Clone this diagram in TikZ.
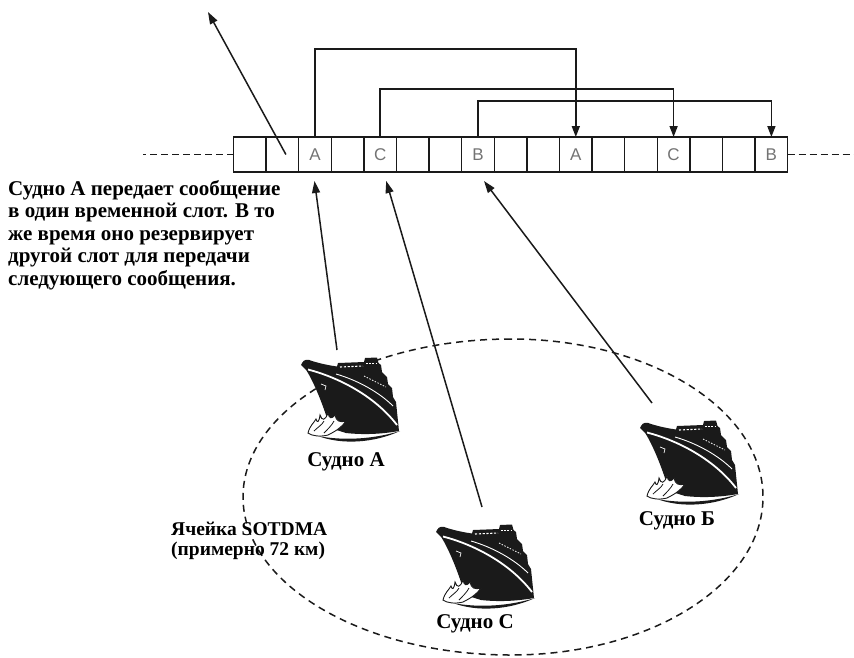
\documentclass[tikz,border=0pt]{standalone}
\usepackage{fontspec}
\setmainfont{Liberation Serif}
\newfontfamily\slotfont{Liberation Sans}
\usetikzlibrary{arrows.meta}

\definecolor{ink}{HTML}{1A1A1A}

\tikzset{
  % cruise ship icon, origin at the tip of the bow
  pics/vessel/.style={code={
    \fill[ink] (0,0) .. controls (2,-4) and (6,-4) .. (10,-2)
       .. controls (20,1) and (28,2.5) .. (35,3.5)
       -- (36,0) -- (62,-1) -- (63,-5) -- (75,-5.5) -- (76.5,0) -- (79,2)
       -- (80,9) -- (85,14) -- (86,21) -- (90,25) -- (91,34) -- (94,39)
       -- (97,68)
       .. controls (80,71) and (62,72) .. (44,70)
       -- (28,65)
       .. controls (22,44) and (13,22) .. (6,10)
       .. controls (4,6) and (1,4) .. (-1,2) -- cycle;
    \draw[white, line width=1.8pt] (6,6.5) .. controls (35,14) and (72,32) .. (95,62);
    \draw[white, line width=0.9pt] (34,11) .. controls (55,17) and (77,29) .. (91,43);
    \draw[white, line width=1.1pt, dash pattern=on 2.2pt off 1.6pt] (38,4) -- (61,3);
    \draw[white, line width=1pt, dash pattern=on 1.6pt off 1.6pt] (64,0.5) -- (74,0.5);
    \draw[white, line width=0.7pt, dash pattern=on 1.5pt off 1.5pt] (62,13) -- (84,24);
    \draw[white, line width=0.7pt] (19,21) -- (24,23) -- (23,27);
    % bow wave
    \fill[ink] (16,73) .. controls (40,82) and (72,80) .. (98,68)
       .. controls (72,76) and (42,78) .. (16,73) -- cycle;
    \filldraw[fill=white, draw=ink, line width=0.9pt]
       (6,70) .. controls (8,62) and (12,60) .. (14,56)
       .. controls (15,60) and (17,60) .. (18,52)
       .. controls (20,58) and (23,58) .. (26,50)
       .. controls (27,56) and (30,56) .. (33,52)
       .. controls (34,58) and (38,60) .. (44,58)
       .. controls (40,64) and (34,68) .. (26,72)
       .. controls (18,74) and (10,73) .. (6,70) -- cycle;
    \draw[ink, line width=0.8pt] (12,68) .. controls (16,64) and (20,62) .. (22,58);
    \draw[ink, line width=0.8pt] (22,70) .. controls (26,66) and (30,62) .. (32,58);
  }},
  slot/.style={draw=ink, line width=1.4pt, minimum width=32.6pt, minimum height=35pt,
    inner sep=0pt, outer sep=0pt, font=\slotfont\fontsize{17}{17}\selectfont, text=black!55},
  track/.style={draw=ink, line width=1.8pt, dash pattern=on 7pt off 4pt},
  link/.style={draw=ink, line width=1.6pt, -{Triangle[length=11pt,width=8pt]}},
  ray/.style={draw=ink, line width=1.5pt, -{Triangle[length=12pt,width=8pt]}},
  cell/.style={draw=ink, line width=1.5pt, dash pattern=on 7pt off 5pt},
  shiplabel/.style={font=\bfseries\fontsize{21}{23}\selectfont, inner sep=0pt},
}

\begin{document}
\begin{tikzpicture}[x=1pt, y=-1pt]
\useasboundingbox (0,0) rectangle (854,657);

% SOTDMA cell boundary
\draw[cell] (511,339) arc[start angle=270, end angle=90, x radius=268, y radius=158]
                      arc[start angle=90, end angle=-90, x radius=252, y radius=158];

% time slots
\foreach \i/\t in {0/,1/,2/A,3/,4/C,5/,6/,7/B,8/,9/,10/A,11/,12/,13/C,14/,15/,16/B}
  \node[slot] (s\i) at ({249.8+32.6*\i},154.5) {\t};
\draw[track] (s0.west) -- ++(-91,0);
\draw[track] (s16.east) -- ++(67,0);

% reservations of the next slots
\draw[link] (s2.north) -- ++(0,-88) -| (s10.north);
\draw[link] (s4.north) -- ++(0,-48) -| (s13.north);
\draw[link] (s7.north) -- ++(0,-36) -| (s16.north);

% outgoing slot
\coordinate (away) at (208,12);
\draw[ray] ([xshift=3.5pt]s1.center) -- (away);

% ships
\pic at (302,363) {vessel};
\pic at (437,530) {vessel};
\pic at (641,426) {vessel};
\node[shiplabel] (la) at (346,462) {Судно А};
\node[shiplabel] (lc) at (475,624) {Судно С};
\node[shiplabel] (lb) at (677,521) {Судно Б};

% transmissions into the slots
\coordinate (txa) at (337,350);
\coordinate (txc) at (482,507);
\coordinate (txb) at (652,403);
\draw[ray] (txa) -- ([xshift=-0.5pt,yshift=-9pt]s2.south);
\draw[ray] (txc) -- ([xshift=6pt,yshift=-9pt]s4.south);
\draw[ray] (txb) -- ([xshift=6pt,yshift=-9pt]s7.south);

% captions
\node[anchor=north west, align=left, inner sep=0pt,
      font=\bfseries\fontsize{21}{22.5}\selectfont] (note) at (8,180)
  {Судно А передает сообщение\\в один временной слот. В то\\же время оно резервирует\\другой слот для передачи\\следующего сообщения.};
\node[anchor=north west, align=left, inner sep=0pt,
      font=\bfseries\fontsize{19.5}{20}\selectfont] (celllabel) at (171,522)
  {Ячейка SOTDMA\\(примерно 72 км)};
\end{tikzpicture}
\end{document}
